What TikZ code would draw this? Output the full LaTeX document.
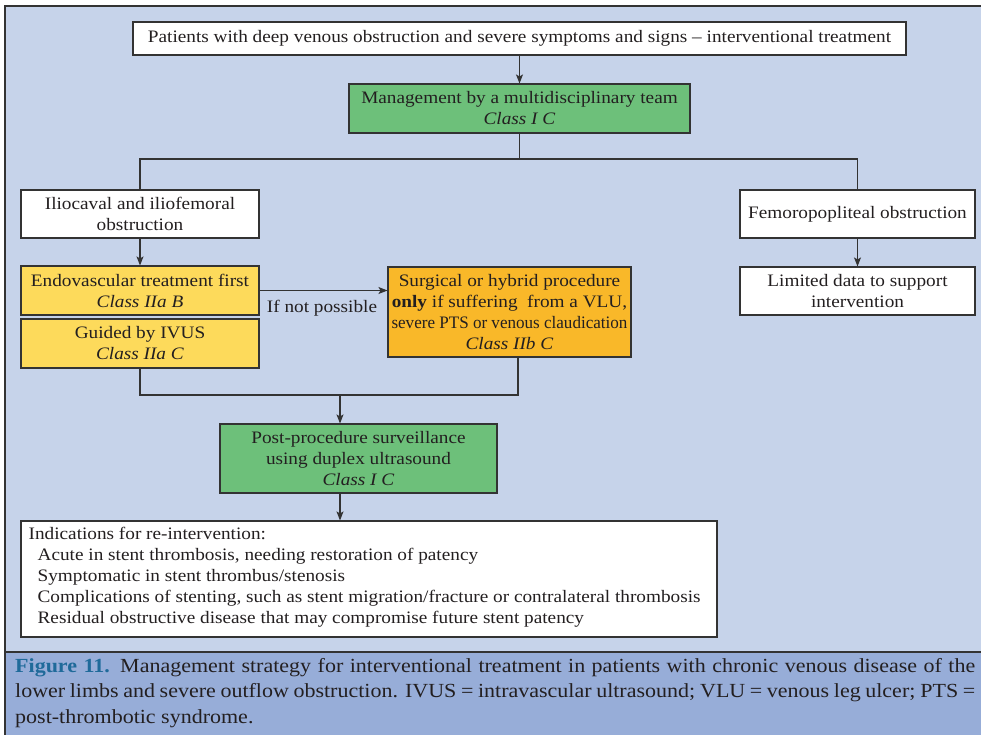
\documentclass[tikz,border=0pt]{standalone}
\usepackage{graphicx}
\usepackage{fontspec}
\setmainfont{Liberation Serif}[FakeStretch=1.1]
\usetikzlibrary{arrows.meta}
\definecolor{bgmain}{HTML}{C6D3EA}
\definecolor{bgcap}{HTML}{97ADD8}
\definecolor{grn}{HTML}{6DC07A}
\definecolor{yel}{HTML}{FDDA5B}
\definecolor{org}{HTML}{F9B829}
\definecolor{linec}{HTML}{333333}
\definecolor{txt}{HTML}{231F20}
\definecolor{figblue}{HTML}{1F6A9A}
\begin{document}
\begin{tikzpicture}[x=1pt,y=-1pt,
  every node/.style={text=txt},
  box/.style={draw=linec, line width=1.1pt, inner sep=2pt, align=center, font=\fontsize{17.5}{21}\selectfont},
  conn/.style={draw=linec, line width=1.1pt},
  arr/.style={conn, -{Stealth[length=9pt,width=7pt,inset=2pt]}},
  lbl/.style={inner sep=0pt, font=\fontsize{17.5}{21}\selectfont},
  captxt/.style={anchor=base west, inner sep=0pt, font=\fontsize{20}{25}\selectfont}]
\useasboundingbox (0,0) rectangle (981,735);
% backgrounds and frame
\fill[white] (0,0) rectangle (981,735);
\fill[bgmain] (5,6) rectangle (981,652);
\fill[bgcap] (5,652) rectangle (981,735);
\draw[linec, line width=1.2pt] (981,6) -- (5,6) -- (5,735);
\draw[linec, line width=1.2pt] (5,652) -- (981,652);
% boxes
\node[box, fill=white, minimum width=773pt, minimum height=33pt] (top) at (519.5,38.5)
  {Patients with deep venous obstruction and severe symptoms and signs -- interventional treatment};
\node[box, fill=grn, minimum width=341pt, minimum height=49pt] (mgmt) at (519.5,108.5)
  {Management by a multidisciplinary team\\ \textit{Class I C}};
\node[box, fill=white, minimum width=238pt, minimum height=48pt] (ilio) at (140,214)
  {Iliocaval and iliofemoral\\ obstruction};
\node[box, fill=white, minimum width=235pt, minimum height=48pt] (femo) at (857.5,214)
  {Femoropopliteal obstruction};
\node[box, fill=yel, minimum width=238pt, minimum height=49pt] (endo) at (140,290.5)
  {Endovascular treatment first\\ \textit{Class IIa B}};
\node[box, fill=yel, minimum width=238pt, minimum height=49pt] (ivus) at (140,343.5)
  {Guided by IVUS\\ \textit{Class IIa C}};
\node[box, fill=org, minimum width=243pt, minimum height=90pt] (surg) at (509.5,312)
  {Surgical or hybrid procedure\\ \textbf{only} if suffering\ \ from a VLU,\\ \resizebox{236pt}{\height}{severe PTS or venous claudication}\\ \textit{Class IIb C}};
\node[box, fill=white, minimum width=235pt, minimum height=48pt] (lim) at (857.5,291)
  {Limited data to support\\ intervention};
\node[box, fill=grn, minimum width=277pt, minimum height=69pt] (post) at (358.5,458.5)
  {Post-procedure surveillance\\ using duplex ultrasound\\ \textit{Class I C}};
\node[box, fill=white, minimum width=696pt, minimum height=116pt] (ind) at (369,579) {};
\node[lbl, anchor=north west, align=left] (indtxt) at ([xshift=8pt,yshift=-7pt]ind.north west)
  {Indications for re-intervention:\\
   \hspace*{9pt}Acute in stent thrombosis, needing restoration of patency\\
   \hspace*{9pt}Symptomatic in stent thrombus/stenosis\\
   \hspace*{9pt}Complications of stenting, such as stent migration/fracture or contralateral thrombosis\\
   \hspace*{9pt}Residual obstructive disease that may compromise future stent patency};
% connectors
\coordinate (split) at (519.5,159);
\coordinate (merge) at (340,395);
\coordinate (mergeR) at (518,395);
\draw[arr] (top.south) -- (mgmt.north);
\draw[conn] (mgmt.south) -- (split);
\draw[conn] (split) -| (ilio.north);
\draw[conn] (split) -| (femo.north);
\draw[arr] (ilio.south) -- (endo.north);
\draw[arr] (femo.south) -- (lim.north);
\draw[arr] (endo.east) -- (endo.east -| surg.west);
\node[lbl] (ifnot) at (322,308) {If not possible};
\draw[conn] (ivus.south) |- (mergeR) -- (mergeR |- surg.south);
\draw[arr] (merge) -- (merge |- post.north);
\draw[arr] (post.south -| merge) -- (merge |- ind.north);
% caption
\node[captxt] (cap1) at (15,672) {\makebox[960pt][s]{\textcolor{figblue}{\bfseries Figure 11.} Management strategy for interventional treatment in patients with chronic venous disease of the}};
\node[captxt] (cap2) at (15,697) {\makebox[960pt][s]{lower limbs and severe outflow obstruction. IVUS = intravascular ultrasound; VLU = venous leg ulcer; PTS =}};
\node[captxt] (cap3) at (15,723) {post-thrombotic syndrome.};
\end{tikzpicture}
\end{document}
